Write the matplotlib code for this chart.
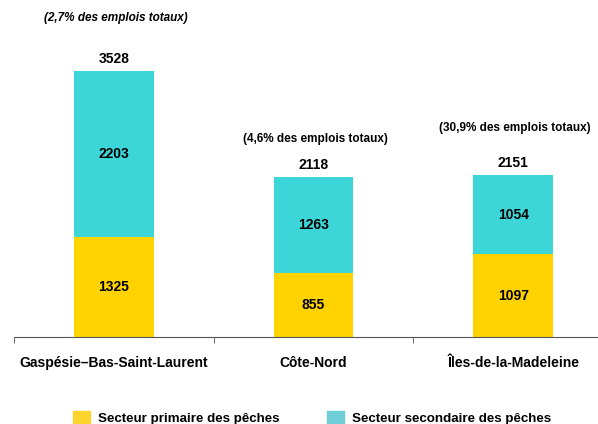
import numpy as np
import matplotlib.pyplot as plt
from matplotlib.patches import Patch

plt.rcParams['font.family'] = ['Liberation Sans', 'DejaVu Sans']

regions = ['Gaspésie–Bas-Saint-Laurent', 'Côte-Nord', 'Îles-de-la-Madeleine']
primaire = [1325, 855, 1097]
secondaire = [2203, 1263, 1054]
part_emplois = ['(2,7% des emplois totaux)', '(4,6% des emplois totaux)', '(30,9% des emplois totaux)']
note_italic = [True, False, False]
note_offset = [41, 26, 35]  # px above the total

jaune = '#FFD200'
turquoise = '#3DD6D8'

fig = plt.figure(figsize=(5.98, 4.24), dpi=100)
ax = fig.add_axes([14/598, 87/424, 599/598, 337/424])

x = np.arange(len(regions))
totaux = np.array(primaire) + np.array(secondaire)
ax.bar(x, primaire, width=0.4, color=jaune)
ax.bar(x, secondaire, width=0.4, bottom=primaire, color=turquoise)

for i in range(len(regions)):
    ax.text(x[i], primaire[i] / 2, str(primaire[i]), ha='center', va='center', fontsize=10, fontweight='bold')
    ax.text(x[i], primaire[i] + secondaire[i] / 2, str(secondaire[i]), ha='center', va='center', fontsize=10, fontweight='bold')
    ax.annotate(str(totaux[i]), (x[i], totaux[i]), xytext=(0, 12), textcoords='offset pixels',
                ha='center', va='center', fontsize=10, fontweight='bold')
    ax.annotate(part_emplois[i], (x[i], totaux[i]), xytext=(2, 12 + note_offset[i]), textcoords='offset pixels',
                ha='center', va='center', fontsize=8.5, fontweight='bold',
                fontstyle='italic' if note_italic[i] else 'normal')

ax.set_xlim(-0.5, 2.5)
ax.set_ylim(0, 337 / 0.0754)
ax.set_yticks([])
ax.set_xticks(x)
ax.set_xticklabels(regions, fontsize=10, fontweight='bold')
ax.tick_params(axis='x', which='major', length=0, pad=14)
ax.set_xticks([-0.5, 0.5, 1.5, 2.5], minor=True)
ax.tick_params(axis='x', which='minor', length=4, direction='out', color='#555555')
for s in ['top', 'right', 'left']:
    ax.spines[s].set_visible(False)
ax.spines['bottom'].set_color('#555555')

handles = [Patch(color='#FCD42E', label='Secteur primaire des pêches'),
           Patch(color='#6ECDD6', label='Secteur secondaire des pêches')]
fig.legend(handles=handles, loc='center left', bbox_to_anchor=(73/598, 1 - 418/424), ncol=2,
           frameon=False, prop={'weight': 'bold', 'size': 9.6},
           handlelength=1.25, handleheight=1.25, handletextpad=0.6, columnspacing=3.6, borderpad=0, borderaxespad=0)

fig.savefig('out.png', dpi=100)
